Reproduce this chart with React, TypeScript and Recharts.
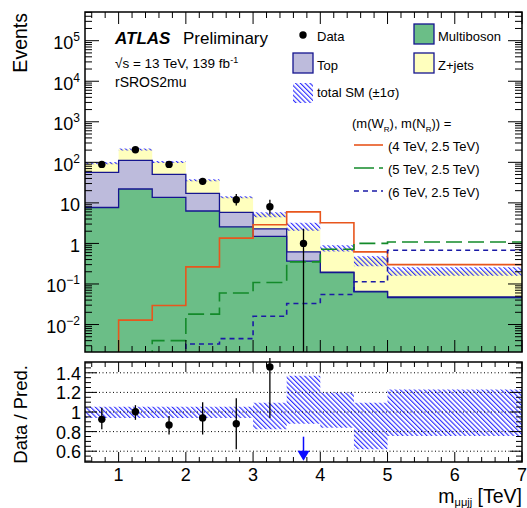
import React from 'react';
import { ComposedChart, Area, Line, Scatter, XAxis, YAxis, ErrorBar, ReferenceLine } from 'recharts';

// ---------------- layout ----------------
const W = 527;
const H = 508;
const PLOT_L = 85;
const PLOT_R = 522;
const MAIN_T = 12;
const MAIN_B = 352;
const RAT_T = 362;
const RAT_B = 462;
const AXIS_W = 1;
const FONT = '"Liberation Sans", Arial, Helvetica, sans-serif';

const Y_MIN = 0.0021;
const Y_MAX = 5.1e5;
const R_MIN = 0.49;
const R_MAX = 1.51;

// ---------------- data ----------------
const binEdges = [0.5, 1, 1.5, 2, 2.5, 3, 3.5, 4, 4.5, 5, 7];
const multiboson = [7.7, 22, 13.7, 6.3, 2.57, 1.49, 0.366, 0.19, 0.064, 0.046];
const topQuark = [48.9, 90, 36.9, 10.9, 3.23, 0.8, 0.254, 0.005, 0.002, 0.002];
const zJets = [39.4, 97, 51.4, 19.3, 8.1, 3.1, 1.73, 0.555, 0.374, 0.162];
const bandRelUp = [1.054, 1.054, 1.054, 1.054, 1.054, 1.095, 1.37, 1.2, 1.095, 1.23];
const bandRelDown = [0.94, 0.94, 0.94, 0.94, 0.94, 0.823, 0.88, 0.84, 0.62, 0.755];
const signal4 = [0.001, 0.0128, 0.0294, 0.264, 1.35, 2.88, 6.0, 3.23, 0.62, 0.3];
const signal5 = [0.001, 0.001, 0.004, 0.018, 0.06, 0.109, 0.35, 0.72, 1.0, 1.08];
const signal6 = [0.001, 0.001, 0.001, 0.0033, 0.0045, 0.016, 0.033, 0.055, 0.113, 0.68];

const dataCenters = [0.75, 1.25, 1.75, 2.25, 2.75, 3.25, 3.75];
const dataEvents = [89, 205, 89, 34, 12, 8, 1];
const dataErrDown = [9.4, 14.3, 9.4, 5.8, 3.4, 2.8, 0.9979];
const dataErrUp = [10.5, 15.3, 10.5, 6.9, 4.6, 3.9, 1.3];

const ratioCenters = [0.75, 1.25, 1.75, 2.25, 2.75, 3.25];
const ratioValues = [0.925, 1.003, 0.867, 0.94, 0.88, 1.46];
const ratioErrLow = [0.823, 0.92, 0.77, 0.77, 0.62, 0.94];
const ratioErrHigh = [1.044, 1.07, 0.96, 1.1, 1.14, 1.55];
const arrowCenters = [3.75];
const arrowStart = [0.748];

const xMajorTicks = [1, 2, 3, 4, 5, 6, 7];
const ratioMajorTicks = [0.6, 0.8, 1, 1.2, 1.4];
const ratioTickLabels = ['0.6', '0.8', '1', '1.2', '1.4'];

// ---------------- colours ----------------
const C_MB = '#6bbe87';
const C_TOP = '#bdbbdc';
const C_ZJ = '#ffffbe';
const C_OUT = '#15158f';
const C_SIG4 = '#e8561d';
const C_SIG5 = '#138a2a';
const C_SIG6 = '#1a1aa6';
const C_HATCH = '#1010ff';

// ---------------- derived tables ----------------
const nBins = binEdges.length - 1;
const mainRows = binEdges.map((x, i) => {
  const b = Math.min(i, nBins - 1);
  const mb = multiboson[b];
  const tp = mb + topQuark[b];
  const tot = tp + zJets[b];
  return {
    x,
    mb,
    tp,
    tot,
    band: [tot * bandRelDown[b], tot * bandRelUp[b]],
    s4: signal4[b],
    s5: signal5[b],
    s6: signal6[b],
  };
});
const ratioRows = binEdges.map((x, i) => {
  const b = Math.min(i, nBins - 1);
  return { x, band: [bandRelDown[b], bandRelUp[b]] };
});
const dataPoints = dataCenters.map((x, i) => ({
  x,
  y: dataEvents[i],
  err: [dataErrDown[i], dataErrUp[i]],
}));
const ratioPoints = ratioCenters.map((x, i) => ({
  x,
  y: ratioValues[i],
  err: [ratioValues[i] - ratioErrLow[i], ratioErrHigh[i] - ratioValues[i]],
}));
const arrowPoints = arrowCenters.map((x, i) => ({ x, y: arrowStart[i] }));

const logTicks: number[] = [];
for (let k = -3; k <= 5; k++) {
  for (let m = 1; m <= 9; m++) {
    const v = parseFloat((m * Math.pow(10, k)).toPrecision(6));
    if (v >= Y_MIN && v <= Y_MAX) logTicks.push(v);
  }
}
const xTicks: number[] = [];
for (let i = 3; i <= 35; i++) xTicks.push(parseFloat((i * 0.2).toFixed(1)));
const rTicks: number[] = [];
for (let i = 10; i <= 30; i++) rTicks.push(parseFloat((i * 0.05).toFixed(2)));

const isMajorX = (v: number) => xMajorTicks.some((m) => Math.abs(m - v) < 1e-6);

// ---------------- tick renderers ----------------
function MainXTick(props: any) {
  const { x, payload } = props;
  const major = isMajorX(payload.value);
  const len = major ? 12 : 6;
  return (
    <g>
      <line x1={x} x2={x} y1={MAIN_B} y2={MAIN_B - len} stroke="#000" strokeWidth={1} />
      <line x1={x} x2={x} y1={MAIN_T} y2={MAIN_T + len} stroke="#000" strokeWidth={1} />
    </g>
  );
}

function MainYTick(props: any) {
  const { y, payload } = props;
  const v = payload.value;
  const lg = Math.log10(v);
  const k = Math.round(lg);
  const major = Math.abs(lg - k) < 1e-6;
  const len = major ? 14 : 7;
  let label: any = null;
  if (major) {
    if (k === 0 || k === 1) {
      label = (
        <text x={PLOT_L - 5} y={y + 8.5} textAnchor="end" fontSize={18} fontFamily={FONT} fill="#000">
          {k === 0 ? '1' : '10'}
        </text>
      );
    } else {
      label = (
        <text x={PLOT_L - 5} y={y + 8.5} textAnchor="end" fontSize={18} fontFamily={FONT} fill="#000">
          <tspan>10</tspan>
          <tspan dy={-8} fontSize={12}>{k < 0 ? '\u2212' + String(-k) : String(k)}</tspan>
        </text>
      );
    }
  }
  return (
    <g>
      <line x1={PLOT_L} x2={PLOT_L + len} y1={y} y2={y} stroke="#000" strokeWidth={1} />
      <line x1={PLOT_R - len} x2={PLOT_R} y1={y} y2={y} stroke="#000" strokeWidth={1} />
      {label}
    </g>
  );
}

function RatioXTick(props: any) {
  const { x, payload } = props;
  const major = isMajorX(payload.value);
  const len = major ? 10 : 5;
  return (
    <g>
      <line x1={x} x2={x} y1={RAT_B} y2={RAT_B - len} stroke="#000" strokeWidth={1} />
      <line x1={x} x2={x} y1={RAT_T} y2={RAT_T + len} stroke="#000" strokeWidth={1} />
      {major && (
        <text x={x} y={RAT_B + 18.5} textAnchor="middle" fontSize={18} fontFamily={FONT} fill="#000">
          {String(Math.round(payload.value))}
        </text>
      )}
    </g>
  );
}

function RatioYTick(props: any) {
  const { y, payload } = props;
  const v = payload.value;
  const idx = ratioMajorTicks.findIndex((m) => Math.abs(m - v) < 1e-6);
  const major = idx >= 0;
  const len = major ? 12 : 6;
  return (
    <g>
      <line x1={PLOT_L} x2={PLOT_L + len} y1={y} y2={y} stroke="#000" strokeWidth={1} />
      <line x1={PLOT_R - len} x2={PLOT_R} y1={y} y2={y} stroke="#000" strokeWidth={1} />
      {major && (
        <text x={PLOT_L - 4} y={y + 7} textAnchor="end" fontSize={18} fontFamily={FONT} fill="#000">
          {ratioTickLabels[idx]}
        </text>
      )}
    </g>
  );
}

const dotShape = (p: any) => <circle cx={p.cx} cy={p.cy} r={3.7} fill="#000" />;
const arrowShape = (p: any) => (
  <g>
    <line x1={p.cx} x2={p.cx} y1={p.cy} y2={p.cy + 16} stroke="#0a0aff" strokeWidth={1.5} />
    <polygon
      points={`${p.cx - 6},${p.cy + 14} ${p.cx + 6},${p.cy + 14} ${p.cx},${p.cy + 24}`}
      fill="#0a0aff"
    />
  </g>
);

function HatchDef({ id }: { id: string }) {
  return (
    <pattern id={id} patternUnits="userSpaceOnUse" width={3.4} height={3.4} patternTransform="rotate(-45)">
      <line x1={0.6} y1={0} x2={0.6} y2={3.4} stroke={C_HATCH} strokeWidth={1} />
    </pattern>
  );
}

// ---------------- legend entries ----------------
const legendBoxes = [
  { name: 'Multiboson', fill: C_MB, col: 1, row: 0 },
  { name: 'Top', fill: C_TOP, col: 0, row: 1 },
  { name: 'Z+jets', fill: C_ZJ, col: 1, row: 1 },
];
const signalLegend = [
  { name: '(4 TeV, 2.5 TeV)', color: C_SIG4, dash: undefined as string | undefined },
  { name: '(5 TeV, 2.5 TeV)', color: C_SIG5, dash: '20 5' },
  { name: '(6 TeV, 2.5 TeV)', color: C_SIG6, dash: '5 4' },
];

export default function App() {
  const mainMargin = { top: MAIN_T, right: W - PLOT_R, bottom: H - MAIN_B - AXIS_W, left: PLOT_L - AXIS_W };
  const ratioMargin = { top: RAT_T, right: W - PLOT_R, bottom: H - RAT_B - AXIS_W, left: PLOT_L - AXIS_W };
  const colX = [293, 414];
  const rowY = [24, 53, 83];
  return (
    <div style={{ position: 'absolute', left: 0, top: 0, width: W, height: H, background: '#fff' }}>
      <div style={{ position: 'absolute', left: 0, top: 0 }}>
        <ComposedChart width={W} height={H} data={mainRows} margin={mainMargin}>
          <defs>
            <HatchDef id="hatchMain" />
          </defs>
          <XAxis
            type="number"
            dataKey="x"
            domain={[0.5, 7]}
            allowDataOverflow
            ticks={xTicks}
            interval={0}
            height={AXIS_W}
            tickSize={0}
            tickMargin={0}
            axisLine={false}
            tickLine={false}
            tick={MainXTick}
          />
          <YAxis
            type="number"
            scale="log"
            domain={[Y_MIN, Y_MAX]}
            allowDataOverflow
            ticks={logTicks}
            interval={0}
            width={AXIS_W}
            tickSize={0}
            tickMargin={0}
            axisLine={false}
            tickLine={false}
            tick={MainYTick}
          />
          <Area dataKey="tot" type="stepAfter" baseValue="dataMin" fill={C_ZJ} fillOpacity={1} stroke="none" isAnimationActive={false} />
          <Area dataKey="tp" type="stepAfter" baseValue="dataMin" fill={C_TOP} fillOpacity={1} stroke={C_OUT} strokeWidth={1.3} isAnimationActive={false} />
          <Area dataKey="mb" type="stepAfter" baseValue="dataMin" fill={C_MB} fillOpacity={1} stroke={C_OUT} strokeWidth={1.3} isAnimationActive={false} />
          <Area dataKey="band" type="stepAfter" fill="url(#hatchMain)" fillOpacity={1} stroke="none" isAnimationActive={false} />
          <Line dataKey="s4" type="stepAfter" stroke={C_SIG4} strokeWidth={1.6} dot={false} isAnimationActive={false} />
          <Line dataKey="s5" type="stepAfter" stroke={C_SIG5} strokeWidth={1.6} strokeDasharray="16 6" dot={false} isAnimationActive={false} />
          <Line dataKey="s6" type="stepAfter" stroke={C_SIG6} strokeWidth={1.6} strokeDasharray="5 4" dot={false} isAnimationActive={false} />
          <Scatter data={dataPoints} dataKey="y" shape={dotShape} isAnimationActive={false}>
            <ErrorBar dataKey="err" direction="y" width={0} stroke="#000" strokeWidth={1.3} />
          </Scatter>
        </ComposedChart>
      </div>
      <div style={{ position: 'absolute', left: 0, top: 0 }}>
        <ComposedChart width={W} height={H} data={ratioRows} margin={ratioMargin}>
          <defs>
            <HatchDef id="hatchRatio" />
          </defs>
          <XAxis
            type="number"
            dataKey="x"
            domain={[0.5, 7]}
            allowDataOverflow
            ticks={xTicks}
            interval={0}
            height={AXIS_W}
            tickSize={0}
            tickMargin={0}
            axisLine={false}
            tickLine={false}
            tick={RatioXTick}
          />
          <YAxis
            type="number"
            domain={[R_MIN, R_MAX]}
            allowDataOverflow
            ticks={rTicks}
            interval={0}
            width={AXIS_W}
            tickSize={0}
            tickMargin={0}
            axisLine={false}
            tickLine={false}
            tick={RatioYTick}
          />
          <Area dataKey="band" type="stepAfter" fill="url(#hatchRatio)" fillOpacity={1} stroke="none" isAnimationActive={false} />
          {ratioMajorTicks.map((v) => (
            <ReferenceLine key={v} y={v} stroke="#000" strokeWidth={1} strokeDasharray="1 2.5" />
          ))}
          <Scatter data={ratioPoints} dataKey="y" shape={dotShape} isAnimationActive={false}>
            <ErrorBar dataKey="err" direction="y" width={0} stroke="#000" strokeWidth={1.3} />
          </Scatter>
          <Scatter data={arrowPoints} dataKey="y" shape={arrowShape} isAnimationActive={false} />
        </ComposedChart>
      </div>
      <svg
        width={W}
        height={H}
        style={{ position: 'absolute', left: 0, top: 0, pointerEvents: 'none' }}
        fontFamily={FONT}
      >
        <defs>
          <HatchDef id="hatchLegend" />
        </defs>
        <rect x={PLOT_L} y={MAIN_T} width={PLOT_R - PLOT_L} height={MAIN_B - MAIN_T} fill="none" stroke="#000" strokeWidth={1.5} />
        <rect x={PLOT_L} y={RAT_T} width={PLOT_R - PLOT_L} height={RAT_B - RAT_T} fill="none" stroke="#000" strokeWidth={1.5} />

        <text transform="translate(26.5,13) rotate(-90)" textAnchor="end" fontSize={19.5} fill="#000">Events</text>
        <text transform="translate(26.5,365) rotate(-90)" textAnchor="end" fontSize={18.5} fill="#000">Data / Pred.</text>
        <text x={522} y={503} textAnchor="end" fontSize={19.5} fill="#000">
          m<tspan fontSize={11} dy={3}>μμjj</tspan>
          <tspan dy={-3}>{' [TeV]'}</tspan>
        </text>

        <text x={115} y={44} fontSize={17} fontWeight="bold" fontStyle="italic" fill="#000">ATLAS</text>
        <text x={183} y={44} fontSize={17} fill="#000">Preliminary</text>
        <text x={115} y={68} fontSize={13.5} fill="#000">
          √s = 13 TeV, 139 fb<tspan dy={-5} fontSize={9}>-1</tspan>
        </text>
        <text x={115} y={87} fontSize={14} fill="#000">rSROS2mu</text>

        {/* legend */}
        <circle cx={303} cy={35} r={3.7} fill="#000" />
        <text x={317} y={41} fontSize={13} fill="#000">Data</text>
        {legendBoxes.map((e) => (
          <g key={e.name}>
            <rect x={colX[e.col]} y={rowY[e.row]} width={20} height={20} fill={e.fill} stroke={C_OUT} strokeWidth={1.3} />
            <text x={colX[e.col] + 24} y={rowY[e.row] + 16.5} fontSize={13} fill="#000">{e.name}</text>
          </g>
        ))}
        <rect x={293} y={83} width={20} height={20} fill="url(#hatchLegend)" />
        <text x={317} y={97} fontSize={13} fill="#000">total SM (±1σ)</text>

        <text x={352} y={128} fontSize={13} fill="#000">
          (m(W<tspan fontSize={8} dy={4}>R</tspan>
          <tspan dy={-4}>), m(N</tspan>
          <tspan fontSize={8} dy={4}>R</tspan>
          <tspan dy={-4}>)) =</tspan>
        </text>
        {signalLegend.map((s, i) => (
          <g key={s.name}>
            <line x1={354} x2={383} y1={145 + i * 23} y2={145 + i * 23} stroke={s.color} strokeWidth={1.6} strokeDasharray={s.dash} />
            <text x={388} y={150.5 + i * 23} fontSize={13} fill="#000">{s.name}</text>
          </g>
        ))}
      </svg>
    </div>
  );
}
